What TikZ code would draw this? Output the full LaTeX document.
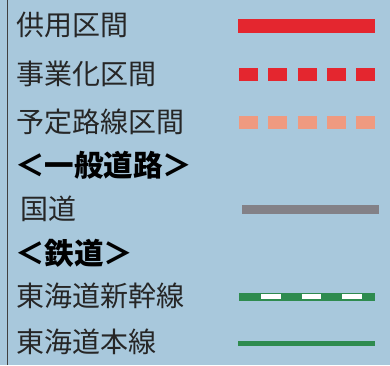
\documentclass[tikz,border=0pt]{standalone}
\usepackage{fontspec}
\newfontfamily\jpfont{Noto Sans CJK JP}
\definecolor{bgblue}{HTML}{A8C8DC}
\definecolor{legred}{HTML}{E4262F}
\definecolor{legsalmon}{HTML}{EF9A80}
\definecolor{leggrey}{HTML}{838187}
\definecolor{leggreen}{HTML}{2E8B4F}
\tikzset{
  lbl/.style={anchor=west,inner sep=0pt,font=\jpfont\fontsize{28}{28}\selectfont,text=black!85},
  hdr/.style={lbl,font=\jpfont\bfseries\fontsize{29.5}{29.5}\selectfont,text=black},
}
\begin{document}
\begin{tikzpicture}[x=1pt,y=-1pt]
\useasboundingbox (0,0) rectangle (390,365);
\fill[bgblue] (0,0) rectangle (390,365);
\draw[black!75,line width=1pt] (7.5,0) -- (7.5,365);
% labels
\node[lbl] (t1) at (16,25) {供用区間};
\node[lbl] (t2) at (16,74) {事業化区間};
\node[lbl] (t3) at (16,122) {予定路線区間};
\node[hdr] (h1) at (15,165) {＜一般道路＞};
\node[lbl] (t4) at (20,209) {国道};
\node[hdr] (h2) at (15,253) {＜鉄道＞};
\node[lbl] (t5) at (16,296) {東海道新幹線};
\node[lbl] (t6) at (16,342) {東海道本線};
% symbols
\draw[legred,line width=14pt] (238,26) -- (375,26);
\draw[legred,line width=13pt,dash pattern=on 19pt off 10.25pt] (239,74.5) -- (375,74.5);
\draw[legsalmon,line width=13pt,dash pattern=on 19pt off 10.25pt] (239,122.5) -- (375,122.5);
\draw[leggrey,line width=9pt] (242,209.5) -- (379,209.5);
\draw[leggreen,line width=8pt] (239,296.5) -- (375,296.5);
\draw[white,line width=4.5pt,dash pattern=on 19.5pt off 21pt] (261,296.5) -- (362,296.5);
\draw[leggreen,line width=5pt] (238,343) -- (375,343);
\end{tikzpicture}
\end{document}
